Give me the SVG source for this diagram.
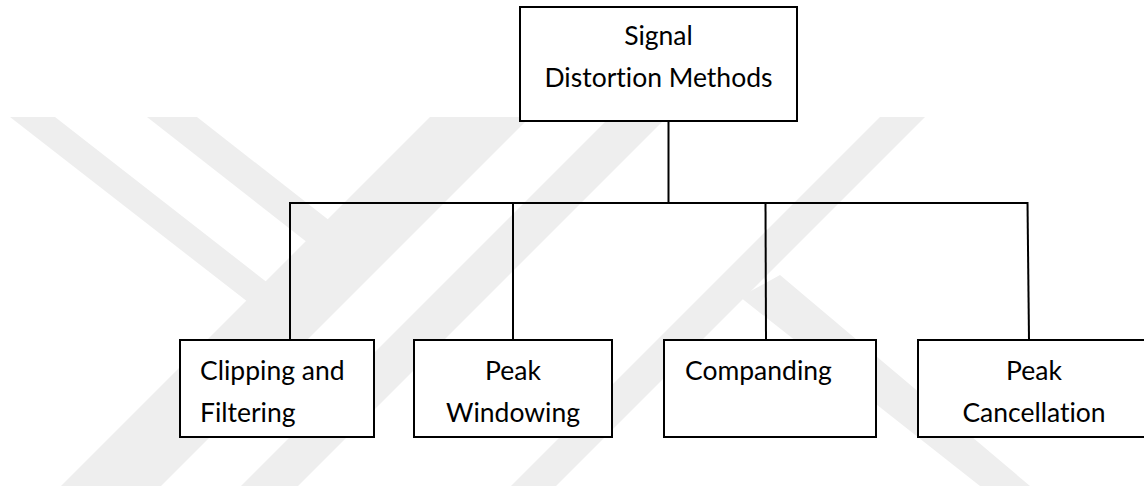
<svg xmlns="http://www.w3.org/2000/svg" width="1144" height="486" viewBox="0 0 1144 486">
  <style>
    .box { fill: #ffffff; stroke: #000000; stroke-width: 2; }
    .lbl { font-family: Lato, "Liberation Sans", sans-serif; font-size: 26.5px; fill: #000000; font-variant-ligatures: none; font-feature-settings: "liga" 0, "clig" 0; }
    .mid { text-anchor: middle; }
    .wire { stroke: #000000; stroke-width: 2; fill: none; }
    .mark { fill: #eeeeee; }
  </style>

  <rect width="1144" height="486" fill="#ffffff"/>

  <!-- faint background emblem -->
  <g id="emblem">
    <polygon class="mark" points="10,117 55,117 282,294 262,313"/>
    <polygon class="mark" points="147,117 197,117 330,221 308,243"/>
    <polygon class="mark" points="430,117 530,117 161,486 61,486"/>
    <polygon class="mark" points="610,117 667,117 298,486 241,486"/>
    <polygon class="mark" points="880,117 925,117 556,486 511,486"/>
    <polygon class="mark" points="740,297 780,275 1030,486 980,486"/>
  </g>

  <!-- connectors -->
  <g id="connectors">
    <line class="wire" x1="668.5" y1="121" x2="668.5" y2="203"/>
    <line class="wire" x1="290" y1="203" x2="1028" y2="203"/>
    <line class="wire" x1="290" y1="202" x2="290" y2="340"/>
    <line class="wire" x1="513" y1="202" x2="513" y2="340"/>
    <line class="wire" x1="765.5" y1="202" x2="766" y2="340"/>
    <line class="wire" x1="1027.5" y1="202" x2="1029" y2="340"/>
  </g>

  <g id="node-root">
    <rect class="box" x="520" y="7" width="277" height="114"/>
    <text class="lbl mid" x="658.5" y="45">Signal</text>
    <text class="lbl mid" x="658.5" y="87">Distortion Methods</text>
  </g>

  <g id="node-clipping">
    <rect class="box" x="180" y="340" width="194" height="97"/>
    <text class="lbl" x="200" y="380">Clipping and</text>
    <text class="lbl" x="200" y="422">Filtering</text>
  </g>

  <g id="node-windowing">
    <rect class="box" x="414" y="340" width="198" height="97"/>
    <text class="lbl mid" x="513" y="380">Peak</text>
    <text class="lbl mid" x="513" y="422">Windowing</text>
  </g>

  <g id="node-companding">
    <rect class="box" x="664" y="340" width="212" height="97"/>
    <text class="lbl" x="685" y="380">Companding</text>
  </g>

  <g id="node-cancellation">
    <rect class="box" x="918" y="340" width="232" height="97"/>
    <text class="lbl mid" x="1034" y="380">Peak</text>
    <text class="lbl mid" x="1034" y="422">Cancellation</text>
  </g>
</svg>
